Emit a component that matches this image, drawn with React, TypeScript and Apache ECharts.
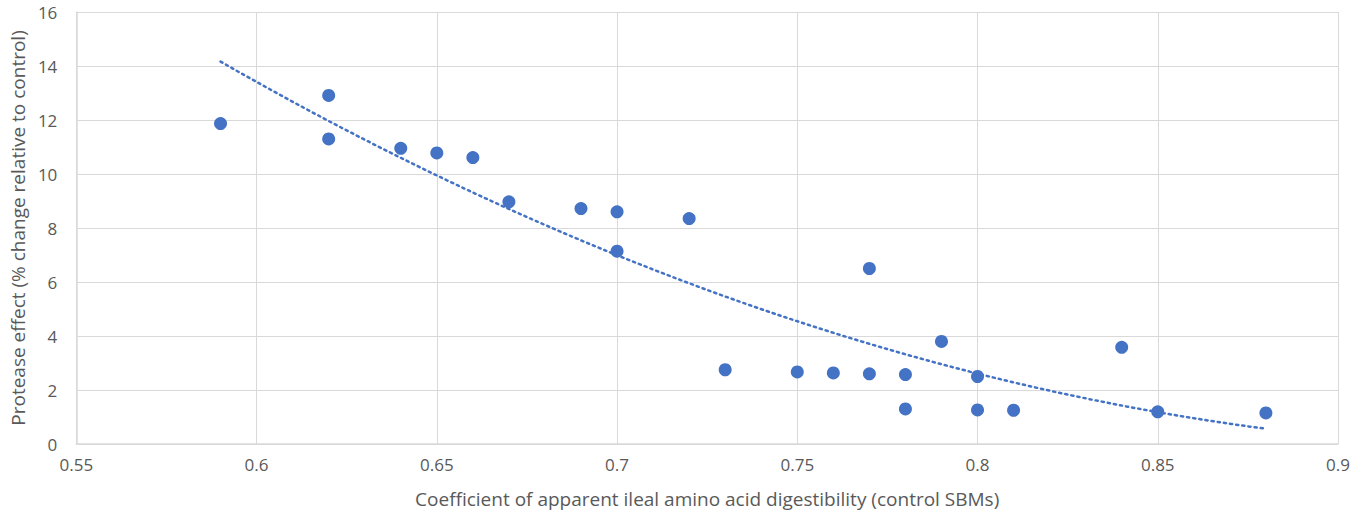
import React, { useEffect, useRef } from "react";
import * as echarts from "echarts";

const xValues = [0.59, 0.62, 0.62, 0.64, 0.65, 0.66, 0.67, 0.69, 0.70, 0.70, 0.72, 0.73, 0.75, 0.76, 0.77, 0.77, 0.78, 0.78, 0.79, 0.80, 0.80, 0.81, 0.84, 0.85, 0.88];
const yValues = [11.87, 12.91, 11.3, 10.95, 10.78, 10.61, 8.97, 8.72, 8.6, 7.14, 8.35, 2.75, 2.67, 2.63, 6.5, 2.6, 2.57, 1.3, 3.8, 2.5, 1.26, 1.25, 3.58, 1.19, 1.15];

const xTitle = "Coefficient of apparent ileal amino acid digestibility (control SBMs)";
const yTitle = "Protease effect (% change relative to control)";

// least-squares quadratic trendline (as in the spreadsheet's polynomial order 2 trendline)
function quadFit(xs: number[], ys: number[]) {
  let s0 = 0, s1 = 0, s2 = 0, s3 = 0, s4 = 0, t0 = 0, t1 = 0, t2 = 0;
  xs.forEach((x, i) => {
    const y = ys[i];
    s0 += 1; s1 += x; s2 += x * x; s3 += x ** 3; s4 += x ** 4;
    t0 += y; t1 += x * y; t2 += x * x * y;
  });
  const M = [
    [s0, s1, s2, t0],
    [s1, s2, s3, t1],
    [s2, s3, s4, t2],
  ];
  for (let c = 0; c < 3; c++) {
    for (let r = c + 1; r < 3; r++) {
      const f = M[r][c] / M[c][c];
      for (let k = c; k < 4; k++) M[r][k] -= f * M[c][k];
    }
  }
  const coef = [0, 0, 0];
  for (let r = 2; r >= 0; r--) {
    let v = M[r][3];
    for (let k = r + 1; k < 3; k++) v -= M[r][k] * coef[k];
    coef[r] = v / M[r][r];
  }
  return coef;
}

export default function App() {
  const ref = useRef<HTMLDivElement>(null);
  useEffect(() => {
    if (!ref.current) return;
    const chart = echarts.init(ref.current, undefined, { renderer: "svg" });
    const [a, b, c] = quadFit(xValues, yValues);
    const xMin = Math.min(...xValues);
    const xMax = Math.max(...xValues);
    const trend: number[][] = [];
    const n = 60;
    for (let i = 0; i <= n; i++) {
      const x = xMin + ((xMax - xMin) * i) / n;
      trend.push([x, a + b * x + c * x * x]);
    }
    const font = "'Open Sans', sans-serif";
    chart.setOption({
      animation: false,
      backgroundColor: "#ffffff",
      grid: { left: 75, right: 28, top: 12, bottom: 72 },
      xAxis: {
        type: "value",
        min: 0.55,
        max: 0.9,
        interval: 0.05,
        name: xTitle,
        nameLocation: "middle",
        nameGap: 45,
        nameTextStyle: { color: "#595959", fontSize: 19, fontFamily: font },
        axisLine: { show: true, lineStyle: { color: "#D9D9D9", width: 1.5 } },
        axisTick: { show: false },
        axisLabel: {
          color: "#595959",
          fontSize: 17,
          fontFamily: font,
          margin: 12,
          formatter: (v: number) => String(Math.round(v * 100) / 100),
        },
        splitLine: { show: true, lineStyle: { color: "#D9D9D9", width: 1 } },
      },
      yAxis: {
        type: "value",
        min: 0,
        max: 16,
        interval: 2,
        name: yTitle,
        nameLocation: "middle",
        nameGap: 48,
        nameTextStyle: { color: "#595959", fontSize: 19, fontFamily: font },
        axisLine: { show: true, lineStyle: { color: "#D9D9D9", width: 1.5 } },
        axisTick: { show: false },
        axisLabel: { color: "#595959", fontSize: 17, fontFamily: font, margin: 19 },
        splitLine: { show: true, lineStyle: { color: "#D9D9D9", width: 1 } },
      },
      series: [
        {
          type: "line",
          data: trend,
          showSymbol: false,
          smooth: false,
          silent: true,
          z: 3,
          lineStyle: { color: "#4472C4", width: 2.5, type: [2.2, 4], cap: "round" },
        },
        {
          type: "scatter",
          data: xValues.map((x, i) => [x, yValues[i]]),
          symbol: "circle",
          symbolSize: 13,
          z: 4,
          itemStyle: { color: "#4472C4", opacity: 1 },
        },
      ],
    });
    return () => chart.dispose();
  }, []);
  return (
    <div
      ref={ref}
      style={{ position: "fixed", left: 0, top: 0, width: 1366, height: 516 }}
    />
  );
}
